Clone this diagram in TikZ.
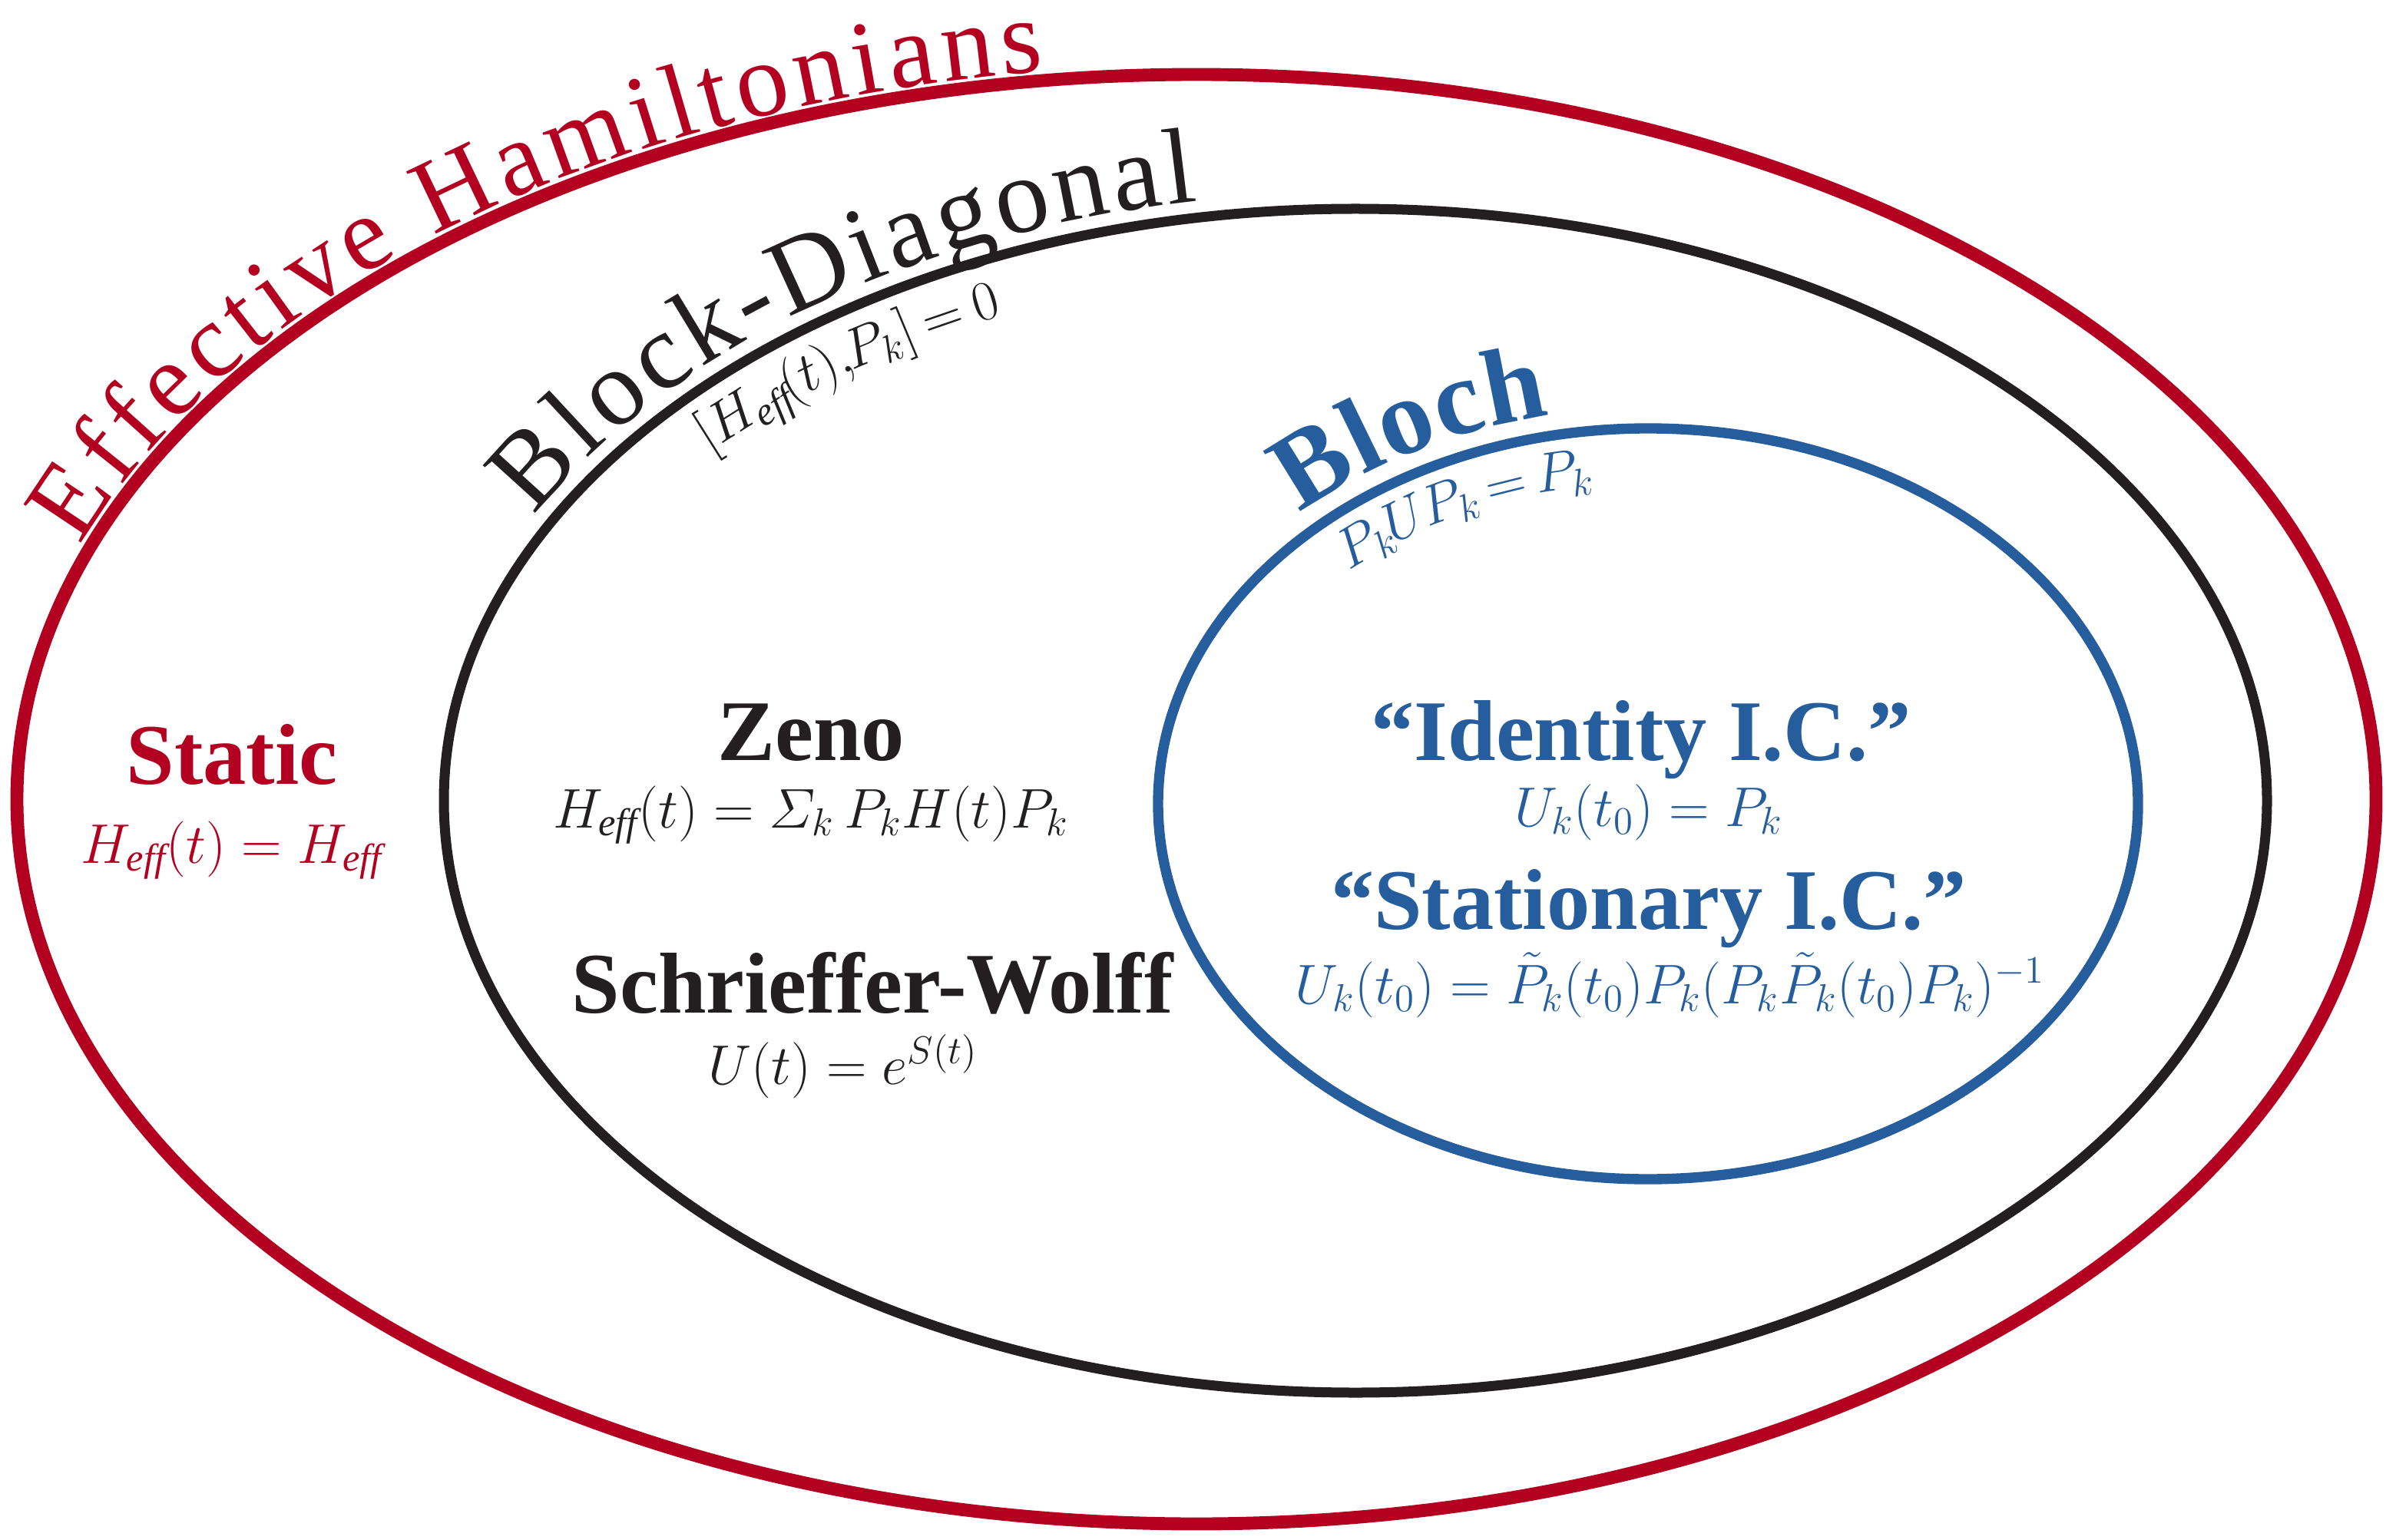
\documentclass[tikz,border=0pt]{standalone}
\usepackage{fontspec}
\setmainfont{Liberation Serif}
\usepackage{amsmath}
\usetikzlibrary{decorations.text, positioning}

\definecolor{effred}{RGB}{180,0,32}
\definecolor{blochblue}{RGB}{38,94,157}
\definecolor{blockgray}{RGB}{35,31,32}

\begin{document}
\begin{tikzpicture}[
    ring/.style={draw, line width=#1},
    head/.style={font=\fontsize{32}{38}\selectfont\bfseries, anchor=base, inner sep=0pt},
    formula/.style={font=\fontsize{20.5}{25}\selectfont, anchor=base, inner sep=0pt}
]
\useasboundingbox (0,0) rectangle (31.07,20.05);

% Elipses
\coordinate (redc) at (15.58,9.64);
\coordinate (blackc) at (17.65,9.62);
\coordinate (bluec) at (21.46,9.58);
\draw[ring=4.8pt, effred] (redc) ellipse [x radius=15.36, y radius=9.44];
\draw[ring=3.7pt, blockgray] (blackc) ellipse [x radius=11.87, y radius=7.71];
\draw[ring=3.8pt, blochblue] (bluec) ellipse [x radius=6.38, y radius=4.89];

% Textos curvos
\path[shift={(redc)}, decorate, decoration={text along path, text align=fit to path, raise=0.12cm, text color=effred,
    text={|\fontsize{39}{46}\selectfont|Effective Hamiltonians}}]
    (160:15.36 and 9.44) arc[start angle=160, end angle=97.4, x radius=15.36, y radius=9.44];
\path[shift={(blackc)}, decorate, decoration={text along path, text align=fit to path, raise=0.22cm, text color=blockgray,
    text={|\fontsize{40}{48}\selectfont|Block-Diagonal}}]
    (152.5:11.87 and 7.71) arc[start angle=152.5, end angle=99.8, x radius=11.87, y radius=7.71];
\path[shift={(blackc)}, decorate, decoration={text along path, text align=center, raise=-0.76cm, text color=blockgray,
    text={|\fontsize{21}{25}\selectfont|{$[H_{\mathit{eff}}$}{$(t),$}{$P_k]$} {$=$} {$0$}}}]
    (139:11.87 and 7.71) arc[start angle=139, end angle=113, x radius=11.87, y radius=7.71];
\path[shift={(bluec)}, decorate, decoration={text along path, text align=fit to path, raise=0.27cm, text color=blochblue,
    text={|\fontsize{40}{48}\selectfont\bfseries|Bloch}}]
    (133.5:6.38 and 4.89) arc[start angle=133.5, end angle=101.5, x radius=6.38, y radius=4.89];
\path[shift={(bluec)}, decorate, decoration={text along path, text align=center, raise=-0.72cm, text color=blochblue,
    text={|\fontsize{21}{25}\selectfont|{$P_k$}{$U$}{$P_k$} {$=$} {$P_k$}}}]
    (131:6.38 and 4.89) arc[start angle=131, end angle=98, x radius=6.38, y radius=4.89];

% Nodos
\node[head, effred] (static) at (3.02,9.84) {Static};
\node[formula, effred, below=1.03cm of static.base, anchor=base] (staticeq) {$H_{\mathit{eff}}(t) = H_{\mathit{eff}}$};

\node[head, blockgray] (zeno) at (10.56,10.15) {Zeno};
\node[formula, blockgray, below=0.88cm of zeno.base, anchor=base] (zenoeq) {$H_{\mathit{eff}}(t) = \varSigma_k\, P_k H(t) P_k$};
\node[head, blockgray, below=2.41cm of zenoeq.base, anchor=base, xshift=0.8cm] (schrieffer) {Schrieffer-Wolff};
\node[formula, blockgray, below=0.93cm of schrieffer.base, anchor=base, xshift=-0.38cm] (sweq) {$U(t) = e^{S(t)}$};

\node[head, blochblue] (identity) at (21.37,10.15) {“Identity I.C.”};
\node[formula, blochblue, below=0.86cm of identity.base, anchor=base, xshift=0.1cm] (identityeq) {$U_k(t_0) = P_k$};
\node[head, blochblue, below=1.34cm of identityeq.base, anchor=base] (stationary) {“Stationary I.C.”};
\node[formula, blochblue, below=0.97cm of stationary.base, anchor=base, xshift=0.28cm] (stationaryeq)
    {$U_k(t_0) = \tilde{P}_k(t_0)P_k(P_k\tilde{P}_k(t_0)P_k)^{-1}$};

\end{tikzpicture}
\end{document}
